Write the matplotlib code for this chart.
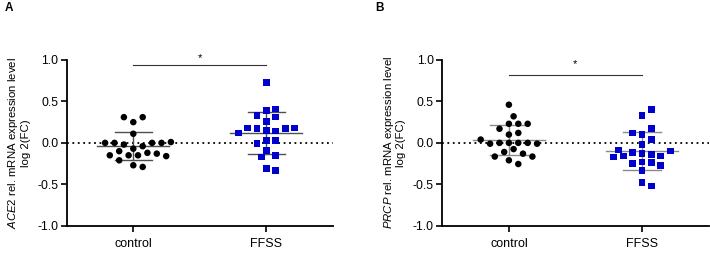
"""
ACE2 / PRCP expression, control vs FFSS (scatter with mean +/- SD)
"""
import numpy as np
import matplotlib
matplotlib.use("Agg")
import matplotlib.pyplot as plt

plt.rcParams["font.family"] = ["Liberation Sans", "DejaVu Sans"]
plt.rcParams["mathtext.fontset"] = "custom"
plt.rcParams["mathtext.it"] = "Liberation Sans:italic"
plt.rcParams["mathtext.rm"] = "Liberation Sans"
plt.rcParams["axes.unicode_minus"] = False

groups = ["control", "FFSS"]

# log2(FC) values
ace2_control = [0.31, 0.31, 0.25, 0.11, 0.01, 0.0, 0.0, 0.0, 0.0, -0.02, -0.04,
                -0.07, -0.10, -0.12, -0.13, -0.15, -0.15, -0.15, -0.16, -0.21,
                -0.27, -0.29]
ace2_ffss = [0.73, 0.41, 0.39, 0.33, 0.31, 0.26, 0.18, 0.18, 0.17, 0.17, 0.15,
             0.145, 0.12, 0.03, 0.03, -0.01, -0.09, -0.15, -0.17, -0.31, -0.33]
prcp_control = [0.46, 0.32, 0.23, 0.23, 0.23, 0.17, 0.12, 0.10, 0.04, 0.0, 0.0,
                0.0, 0.0, -0.01, -0.01, -0.075, -0.11, -0.13, -0.165, -0.165,
                -0.21, -0.255]
prcp_ffss = [0.40, 0.33, 0.17, 0.12, 0.10, 0.04, -0.02, -0.085, -0.10, -0.12,
             -0.13, -0.14, -0.16, -0.16, -0.17, -0.23, -0.24, -0.25, -0.27,
             -0.33, -0.48, -0.52]

panels = [
    ("A", "ACE2", ace2_control, ace2_ffss, 0.94, 1.02),
    ("B", "PRCP", prcp_control, prcp_ffss, 0.82, 0.95),
]

W, H = 7.1, 2.54
fig = plt.figure(figsize=(W, H), dpi=100)

ax_w, ax_h = 0.375, 0.653
xpx = ax_w * W * 100 / 2.0   # pixels per category unit
ypx = ax_h * H * 100 / 2.0   # pixels per log2 unit


def swarm(vals, step=4.7, diam=7.6):
    # greedy beeswarm on a half-spacing grid, points nearest the median first
    vals = np.asarray(vals)
    med = np.median(vals)
    order = np.argsort(np.abs(vals - med), kind="stable")
    cands = [0]
    for i in range(1, 40):
        cands += [i, -i]
    placed = []
    offs = np.zeros(len(vals))
    for j in order:
        y = vals[j] * ypx
        for k in cands:
            x = k * step
            if all((x - px) ** 2 + (y - py) ** 2 >= diam ** 2 for px, py in placed):
                break
        placed.append((x, y))
        offs[j] = x / xpx
    return offs


lefts = [0.094, 0.623]
for (letter, gene, ctrl, ffss, bar_y, star_y), left in zip(panels, lefts):
    ax = fig.add_axes([left, 0.111, ax_w, ax_h])
    ax.set_xlim(-0.5, 1.5)
    ax.set_ylim(-1.0, 1.0)

    line_c = "#505050" if letter == "A" else "#8a8a8a"
    ax.axhline(0, color="black", lw=1.3, ls=(0, (1, 2)), zorder=1)

    for i, (vals, marker, col, size) in enumerate([(ctrl, "o", "black", 22),
                                                   (ffss, "s", "#0000cc", 23)]):
        vals = np.array(vals)
        xs = i + swarm(vals)
        ax.scatter(xs, vals, s=size, marker=marker, color=col,
                   edgecolors="none", zorder=3)
        m = vals.mean()
        sd = vals.std(ddof=1)
        ax.plot([i - 0.27, i + 0.27], [m, m], color=line_c, lw=1.0, zorder=2)
        ax.plot([i - 0.14, i + 0.14], [m + sd, m + sd], color=line_c, lw=1.0, zorder=2)
        ax.plot([i - 0.14, i + 0.14], [m - sd, m - sd], color=line_c, lw=1.0, zorder=2)
        ax.plot([i, i], [m - sd, m + sd], color=line_c, lw=1.0, zorder=2)

    # significance bar
    ax.plot([0, 1], [bar_y, bar_y], color="#333333", lw=0.8, clip_on=False)
    ax.text(0.5, star_y, "*", ha="center", va="center", fontsize=8, clip_on=False)

    ax.set_xticks([0, 1])
    ax.set_xticklabels(groups, fontsize=9)
    ax.set_yticks([-1.0, -0.5, 0.0, 0.5, 1.0])
    ax.set_yticklabels(["%.1f" % t for t in [-1.0, -0.5, 0.0, 0.5, 1.0]], fontsize=8.8)
    ax.tick_params(axis="both", direction="out", length=4, width=1.2, color="black")
    ax.tick_params(axis="x", pad=5)
    ax.tick_params(axis="y", pad=2)
    for s in ["top", "right"]:
        ax.spines[s].set_visible(False)
    for s in ["left", "bottom"]:
        ax.spines[s].set_linewidth(1.3)

    ax.set_ylabel("$\\it{" + gene + "}$ rel. mRNA expression level\nlog 2(FC)",
                  fontsize=8.2, linespacing=1.1)
    ax.yaxis.set_label_coords(-0.135, 0.5)

    fig.text(left - 0.087 if letter == "A" else left - 0.094, 0.97, letter,
             fontsize=8.5, fontweight="bold", va="center", ha="left")

fig.savefig("out.png", dpi=100)
